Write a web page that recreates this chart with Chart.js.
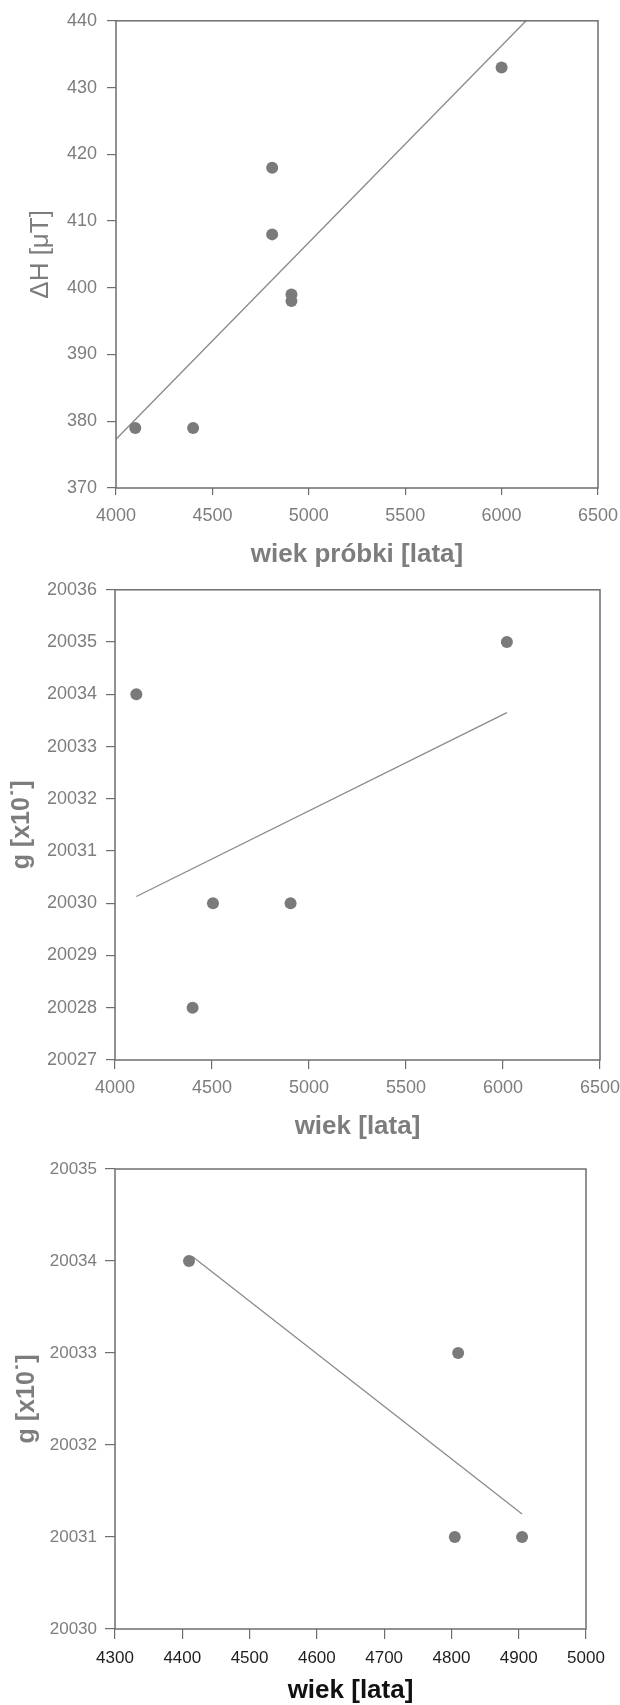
<!DOCTYPE html>
<html>
<head>
<meta charset="utf-8">
<script src="https://cdn.jsdelivr.net/npm/chart.js@4.4.1/dist/chart.umd.min.js"></script>
<style>
  body { margin: 0; background: #fff; }
  canvas { position: absolute; left: 0; }
</style>
</head>
<body>
<canvas id="c1" width="620" height="575" style="top:0px"></canvas>
<canvas id="c2" width="620" height="575" style="top:570px"></canvas>
<canvas id="c3" width="620" height="560" style="top:1145px"></canvas>
<script>
// Chart 1: delta H vs sample age
const age1 = [4100, 4400, 4810, 4810, 4910, 4910, 6000];
const dH1 = [379, 379, 418, 408, 399, 398, 433];
const fitAge1 = [4000, 6127];
const fitDH1 = [377.3, 440];
const xTicks1 = [4000, 4500, 5000, 5500, 6000, 6500];
const yTicks1 = [370, 380, 390, 400, 410, 420, 430, 440];

// Chart 2: g vs age
const age2 = [4110, 4400, 4505, 4905, 6020];
const g2 = [20034, 20028, 20030, 20030, 20035];
const fitAge2 = [4110, 6020];
const fitG2 = [20030.13, 20033.65];
const xTicks2 = [4000, 4500, 5000, 5500, 6000, 6500];
const yTicks2 = [20027, 20028, 20029, 20030, 20031, 20032, 20033, 20034, 20035, 20036];

// Chart 3: g vs age (narrow range)
const age3 = [4410, 4810, 4805, 4905];
const g3 = [20034, 20033, 20031, 20031];
const fitAge3 = [4415, 4905];
const fitG3 = [20034.05, 20031.25];
const xTicks3 = [4300, 4400, 4500, 4600, 4700, 4800, 4900, 5000];
const yTicks3 = [20030, 20031, 20032, 20033, 20034, 20035];

const FONT = '"Liberation Sans", Arial, sans-serif';
const GRAY = '#7d7d7d';
const AXIS = '#6e6e6e';

// box around the plot area
const framePlugin = {
    id: 'frame',
    afterDatasetsDraw(chart) {
        const a = chart.chartArea;
        const ctx = chart.ctx;
        ctx.save();
        ctx.strokeStyle = AXIS;
        ctx.lineWidth = 1.5;
        ctx.strokeRect(a.left, a.top, a.right - a.left, a.bottom - a.top);
        ctx.restore();
    }
};

function toPoints(xs, ys) {
    return xs.map((x, i) => ({ x: x, y: ys[i] }));
}

function makeChart(id, c) {
    return new Chart(document.getElementById(id), {
        type: 'scatter',
        data: {
            datasets: [{
                data: toPoints(c.xs, c.ys),
                pointRadius: 6,
                pointHoverRadius: 6,
                backgroundColor: '#7a7a7a',
                borderWidth: 0
            }, {
                data: toPoints(c.fitX, c.fitY),
                showLine: true,
                pointRadius: 0,
                borderColor: '#8a8a8a',
                borderWidth: 1.3
            }]
        },
        options: {
            responsive: false,
            animation: false,
            layout: { padding: { left: 0, top: c.top, right: c.right, bottom: 0 } },
            plugins: {
                legend: { display: false },
                tooltip: { enabled: false }
            },
            scales: {
                x: {
                    type: 'linear',
                    min: c.xTicks[0],
                    max: c.xTicks[c.xTicks.length - 1],
                    afterBuildTicks: (s) => { s.ticks = c.xTicks.map(v => ({ value: v })); },
                    afterFit: (s) => {
                        s.height = c.xHeight;
                        s.paddingLeft = 0;
                        s.paddingRight = 0;
                    },
                    grid: { drawOnChartArea: false, drawTicks: true, tickLength: c.xTickLen, color: AXIS, lineWidth: 1.2 },
                    border: { display: false },
                    ticks: {
                        autoSkip: false,
                        maxRotation: 0,
                        padding: c.xPad,
                        color: c.xTickColor,
                        font: { family: FONT, size: c.tickSize },
                        callback: (v) => String(v)
                    },
                    title: {
                        display: true,
                        text: c.xTitle,
                        color: c.xTitleColor,
                        font: { family: FONT, size: 26, weight: 'bold', lineHeight: 1 },
                        padding: { top: 0, bottom: c.xTitlePad }
                    }
                },
                y: {
                    type: 'linear',
                    min: c.yTicks[0],
                    max: c.yTicks[c.yTicks.length - 1],
                    afterBuildTicks: (s) => { s.ticks = c.yTicks.map(v => ({ value: v })); },
                    afterFit: (s) => { s.width = c.yWidth; },
                    grid: { drawOnChartArea: false, drawTicks: true, tickLength: c.yTickLen, color: AXIS, lineWidth: 1.2 },
                    border: { display: false },
                    ticks: {
                        autoSkip: false,
                        padding: c.yPad,
                        color: GRAY,
                        font: { family: FONT, size: c.tickSize },
                        callback: (v) => String(v)
                    },
                    title: {
                        display: true,
                        text: c.yTitle,
                        color: GRAY,
                        font: { family: FONT, size: c.yTitleSize, weight: c.yTitleWeight, lineHeight: 1 },
                        padding: { top: c.yTitlePad, bottom: 0 }
                    }
                }
            }
        },
        plugins: [framePlugin]
    });
}

makeChart('c1', {
    xs: age1, ys: dH1, fitX: fitAge1, fitY: fitDH1,
    xTicks: xTicks1, yTicks: yTicks1,
    top: 18, right: 22, xHeight: 87, yWidth: 116,
    xTickLen: 7, xPad: 10, yTickLen: 9, yPad: 10, tickSize: 18,
    xTickColor: GRAY, xTitleColor: GRAY,
    xTitle: 'wiek próbki [lata]', xTitlePad: 7,
    yTitle: 'ΔH [μT]', yTitleSize: 26, yTitleWeight: 'normal', yTitlePad: 28
});

makeChart('c2', {
    xs: age2, ys: g2, fitX: fitAge2, fitY: fitG2,
    xTicks: xTicks2, yTicks: yTicks2,
    top: 14, right: 20, xHeight: 85, yWidth: 115,
    xTickLen: 9, xPad: 8, yTickLen: 9, yPad: 9, tickSize: 18,
    xTickColor: GRAY, xTitleColor: GRAY,
    xTitle: 'wiek [lata]', xTitlePad: 5,
    yTitle: 'g [x10˙]', yTitleSize: 25, yTitleWeight: 'bold', yTitlePad: 10
});

makeChart('c3', {
    xs: age3, ys: g3, fitX: fitAge3, fitY: fitG3,
    xTicks: xTicks3, yTicks: yTicks3,
    top: 24, right: 34, xHeight: 76, yWidth: 115,
    xTickLen: 10, xPad: 9, yTickLen: 10, yPad: 8, tickSize: 17,
    xTickColor: '#1e1e1e', xTitleColor: '#111',
    xTitle: 'wiek [lata]', xTitlePad: 1,
    yTitle: 'g [x10˙]', yTitleSize: 25, yTitleWeight: 'bold', yTitlePad: 15
});
</script>
</body>
</html>
